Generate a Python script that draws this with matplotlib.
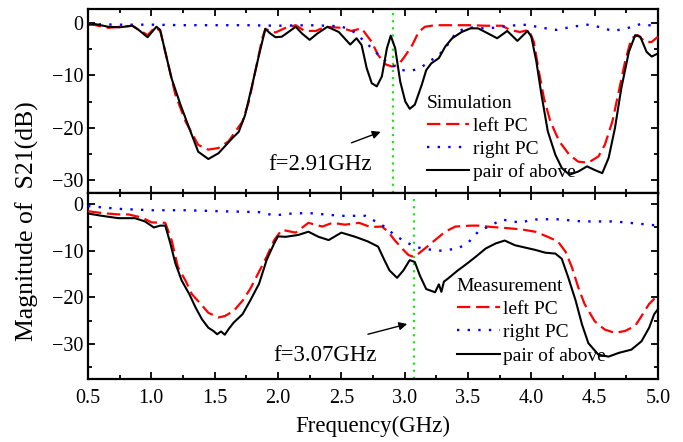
import matplotlib
matplotlib.use("Agg")
import matplotlib.pyplot as plt
from matplotlib.ticker import MultipleLocator

plt.rcParams['font.family'] = ['Liberation Serif', 'DejaVu Serif']
plt.rcParams['mathtext.fontset'] = 'stix'

# ---------------- Simulation (top) ----------------
sim_pair_f = [0.50, 0.56, 0.66, 0.75, 0.85, 0.90, 0.97, 1.04, 1.07, 1.11, 1.16, 1.23, 1.29, 1.37, 1.45,
              1.53, 1.64, 1.69, 1.74, 1.79, 1.85, 1.90, 1.94, 1.98, 2.03, 2.14, 2.19, 2.25, 2.31, 2.39,
              2.48, 2.57, 2.62, 2.66, 2.70, 2.74, 2.78, 2.82, 2.86, 2.89, 2.925, 2.965, 3.005, 3.04,
              3.08, 3.135, 3.17, 3.21, 3.27, 3.32, 3.375, 3.45, 3.52, 3.58, 3.66, 3.73, 3.81, 3.89,
              3.97, 4.00, 4.04, 4.08, 4.13, 4.19, 4.24, 4.30, 4.37, 4.44, 4.50, 4.56, 4.61, 4.66,
              4.71, 4.77, 4.82, 4.86, 4.91, 4.95, 5.00]
sim_pair_db = [-0.3, -0.2, -0.7, -0.8, -0.5, -1.3, -2.7, -0.7, -1.3, -5.5, -10.6, -15.6, -19.5, -24.6, -26.0,
               -24.9, -22.0, -20.8, -17.6, -12.5, -6.1, -1.1, -2.0, -2.7, -2.6, -0.7, -2.0, -3.2, -2.0, -0.7,
               -1.7, -4.1, -2.9, -4.2, -8.6, -11.5, -12.1, -10.2, -4.8, -2.4, -4.8, -11.2, -15.0, -16.4,
               -15.6, -11.8, -9.0, -7.7, -6.7, -4.5, -2.9, -1.7, -1.0, -1.0, -2.0, -2.9, -1.5, -3.4,
               -1.5, -2.6, -7.4, -13.7, -20.7, -25.2, -27.7, -29.0, -28.4, -27.4, -28.1, -28.7, -25.8, -20.1,
               -12.5, -5.5, -2.3, -2.6, -5.5, -6.4, -5.8]

sim_left_f = [0.50, 0.66, 0.85, 0.97, 1.03, 1.07, 1.11, 1.19, 1.27, 1.37, 1.45, 1.53, 1.61, 1.72, 1.77,
              1.82, 1.876, 1.90, 1.94, 1.98, 2.05, 2.14, 2.21, 2.30, 2.37, 2.50, 2.58, 2.66, 2.74, 2.79,
              2.85, 2.90, 2.95, 3.00, 3.06, 3.11, 3.16, 3.24, 3.40, 3.53, 3.64, 3.77, 3.83, 3.91, 3.98,
              4.02, 4.06, 4.10, 4.15, 4.22, 4.30, 4.37, 4.45, 4.53, 4.58, 4.64, 4.69, 4.74, 4.79, 4.84,
              4.90, 4.95, 5.00]
sim_left_db = [-0.1, -0.9, -0.5, -2.3, -0.8, -1.5, -5.5, -13.7, -18.8, -23.3, -24.2, -23.9, -22.6, -18.8, -15.0,
               -9.3, -2.9, -1.1, -1.5, -1.8, -1.0, -0.4, -1.5, -1.5, -0.7, -0.9, -1.5, -1.0, -3.6, -6.1,
               -7.9, -8.3, -8.0, -6.4, -4.2, -1.7, -0.7, -0.4, -0.4, -0.4, -0.5, -0.5, -1.3, -1.7, -1.3,
               -3.6, -9.3, -14.4, -18.8, -22.6, -25.2, -26.5, -26.7, -25.5, -23.3, -18.8, -13.1, -7.4, -2.9, -2.3,
               -3.6, -3.6, -2.6]

sim_right_f = [0.50, 0.75, 1.00, 1.25, 1.50, 1.75, 2.00, 2.25, 2.50, 2.60, 2.67, 2.74, 2.82, 2.89, 2.98,
               3.06, 3.14, 3.21, 3.27, 3.32, 3.375, 3.41, 3.50, 3.60, 3.70, 3.82, 3.97, 4.06, 4.20, 4.32,
               4.44, 4.55, 4.64, 4.74, 4.86, 5.00]
sim_right_db = [-0.2, -0.3, -0.3, -0.4, -0.4, -0.4, -0.5, -0.4, -0.6, -1.7, -3.2, -4.8, -6.7, -7.9, -9.0,
                -9.1, -8.3, -7.1, -6.1, -4.8, -2.9, -1.7, -0.8, -1.0, -0.9, -0.5, -0.3, -0.8, -1.3, -0.7,
                -0.3, -0.8, -1.5, -1.1, -0.2, -0.6]

# ---------------- Measurement (bottom) ----------------
meas_pair_f = [0.50, 0.61, 0.74, 0.87, 0.95, 1.02, 1.07, 1.11, 1.15, 1.19, 1.24, 1.30, 1.35, 1.40, 1.45,
               1.49, 1.52, 1.55, 1.58, 1.61, 1.65, 1.72, 1.78, 1.85, 1.91, 1.97, 2.00, 2.06, 2.16, 2.24,
               2.32, 2.40, 2.50, 2.61, 2.71, 2.79, 2.84, 2.88, 2.94, 2.99, 3.04, 3.08, 3.12, 3.17, 3.24,
               3.27, 3.29, 3.31, 3.34, 3.42, 3.48, 3.56, 3.64, 3.72, 3.79, 3.87, 3.95, 4.03, 4.11, 4.19,
               4.24, 4.29, 4.35, 4.40, 4.45, 4.53, 4.61, 4.69, 4.79, 4.87, 4.93, 4.97, 5.00]
meas_pair_db = [-2.0, -2.5, -3.0, -3.0, -3.7, -5.0, -4.6, -4.6, -8.4, -12.7, -16.4, -19.3, -22.2, -24.7, -26.5,
                -27.2, -27.9, -27.3, -28.0, -26.8, -25.4, -23.6, -20.7, -17.1, -12.0, -8.4, -6.9, -7.0, -6.6, -5.9,
                -7.0, -7.7, -6.1, -7.0, -8.0, -9.1, -12.0, -14.2, -15.8, -14.2, -12.0, -12.4, -15.3, -18.2, -18.9,
                -17.2, -18.8, -16.6, -16.0, -14.2, -13.0, -11.3, -9.5, -8.4, -7.8, -8.8, -9.3, -9.8, -10.4, -10.6,
                -11.7, -15.6, -20.7, -25.8, -29.8, -32.3, -32.7, -31.9, -31.2, -29.4, -26.5, -23.6, -22.5]

meas_left_f = [0.50, 0.61, 0.74, 0.82, 0.93, 1.00, 1.11, 1.16, 1.21, 1.27, 1.32, 1.39, 1.45, 1.53, 1.58,
               1.65, 1.72, 1.78, 1.85, 1.91, 1.97, 2.03, 2.14, 2.24, 2.35, 2.43, 2.53, 2.64, 2.73, 2.82,
               2.87, 2.92, 2.99, 3.03, 3.07, 3.11, 3.16, 3.24, 3.32, 3.40, 3.52, 3.58, 3.69, 3.79, 3.92,
               4.03, 4.13, 4.21, 4.27, 4.32, 4.37, 4.42, 4.50, 4.58, 4.66, 4.74, 4.82, 4.87, 4.93, 5.00]
meas_left_db = [-1.5, -1.9, -2.2, -2.2, -2.9, -3.9, -4.0, -7.7, -13.5, -16.4, -19.3, -21.4, -23.3, -24.3, -24.0,
                -22.9, -20.7, -18.2, -14.5, -11.3, -7.7, -5.5, -6.1, -4.0, -4.8, -4.0, -4.4, -4.0, -4.9, -4.8,
                -5.9, -7.7, -9.8, -10.9, -11.3, -10.6, -9.5, -7.7, -5.9, -4.8, -4.6, -4.6, -4.9, -5.1, -5.4,
                -5.9, -7.0, -8.0, -10.2, -13.5, -17.8, -21.4, -25.1, -26.9, -27.6, -27.2, -26.1, -24.0, -21.4, -19.5]

meas_right_f = [0.50, 0.74, 1.00, 1.27, 1.53, 1.85, 1.97, 2.11, 2.24, 2.37, 2.50, 2.69, 2.77, 2.84, 2.92,
                3.00, 3.06, 3.11, 3.19, 3.27, 3.34, 3.42, 3.50, 3.58, 3.69, 3.77, 3.92, 4.00, 4.19, 4.40,
                4.66, 4.93, 5.00]
meas_right_db = [-0.4, -1.0, -1.3, -1.3, -1.5, -1.7, -2.4, -2.0, -1.9, -2.2, -2.5, -2.5, -3.7, -4.8, -6.6,
                 -8.0, -8.8, -9.3, -9.7, -10.0, -9.8, -9.5, -8.3, -5.9, -4.4, -3.3, -4.0, -3.3, -3.2, -3.7,
                 -3.7, -4.4, -4.6]

labels = ["left PC", "right PC", "pair of above"]
titles = ["Simulation", "Measurement"]
marker_freq = [2.91, 3.07]
marker_text = ["f=2.91GHz", "f=3.07GHz"]
xticks = [0.5, 1.0, 1.5, 2.0, 2.5, 3.0, 3.5, 4.0, 4.5, 5.0]
yticks = [0, -10, -20, -30]

RED = '#ff0000'
BLUE = '#0000ff'
GREEN = '#22e022'
FS = 14.5

W, H = 683, 442
fig = plt.figure(figsize=(W / 100, H / 100), dpi=100)
L, R = 88, 658
ax_top = fig.add_axes([L / W, 1 - 193 / H, (R - L) / W, 184 / H])
ax_bot = fig.add_axes([L / W, 1 - 379 / H, (R - L) / W, 186 / H])

datasets = [
    (sim_left_f, sim_left_db, sim_right_f, sim_right_db, sim_pair_f, sim_pair_db),
    (meas_left_f, meas_left_db, meas_right_f, meas_right_db, meas_pair_f, meas_pair_db),
]
ylims = [(-32.5, 2.7), (-37.5, 2.4)]
leg_anchor = [(0.594, 0.535), (0.647, 0.542)]
txt_pos = [(2.33, -27.1), (2.375, -32.4)]
arrow_from = [(2.58, -22.9), (2.71, -27.9)]
arrow_to = [(2.81, -20.8), (3.02, -25.7)]

for i, ax in enumerate([ax_top, ax_bot]):
    lf, ld, rf, rd, pf, pd = datasets[i]
    ax.axvline(marker_freq[i], color=GREEN, lw=1.6, linestyle=(0, (1, 2.2)), zorder=1)
    ax.plot(lf, ld, color=RED, lw=1.6, linestyle=(0, (6, 2.6)), label=labels[0], zorder=3)
    ax.plot(rf, rd, color=BLUE, lw=1.7, linestyle=(0, (1, 3.5)), label=labels[1], zorder=3)
    ax.plot(pf, pd, color='black', lw=1.5, label=labels[2], zorder=4)
    ax.set_xlim(0.5, 5.0)
    ax.set_ylim(*ylims[i])
    ax.xaxis.set_major_locator(MultipleLocator(0.5))
    ax.xaxis.set_minor_locator(MultipleLocator(0.25))
    ax.yaxis.set_major_locator(MultipleLocator(10))
    ax.yaxis.set_minor_locator(MultipleLocator(5))
    ax.set_yticks(yticks)
    ax.tick_params(which='both', direction='in', top=True, right=True, width=1.3, labelsize=FS)
    ax.tick_params(which='major', length=5)
    ax.tick_params(which='minor', length=3)
    ax.tick_params(axis='x', pad=7)
    for s in ax.spines.values():
        s.set_linewidth(1.6)
    leg = ax.legend(title=titles[i], loc='upper left', bbox_to_anchor=leg_anchor[i],
                    frameon=False, fontsize=14, title_fontsize=14, handlelength=2.2,
                    handletextpad=0.2, labelspacing=0.28, borderpad=0, borderaxespad=0,
                    alignment='left')
    ax.text(*txt_pos[i], marker_text[i], fontsize=16.5, ha='center', va='center')
    ax.annotate('', xy=arrow_to[i], xytext=arrow_from[i],
                arrowprops=dict(arrowstyle='-|>', color='black', lw=1.0, mutation_scale=12,
                                shrinkA=0, shrinkB=0))

ax_top.tick_params(labelbottom=False)
ax_bot.set_xticks(xticks)
ax_bot.set_xticklabels([f"{v:.1f}" for v in xticks])
ax_bot.set_xlabel("Frequency(GHz)", fontsize=16.5, labelpad=6)
fig.text(0.04, 0.5, "Magnitude of  S21(dB)", rotation=90, fontsize=18.5,
         ha='center', va='center')

fig.savefig("out.png", dpi=100)
